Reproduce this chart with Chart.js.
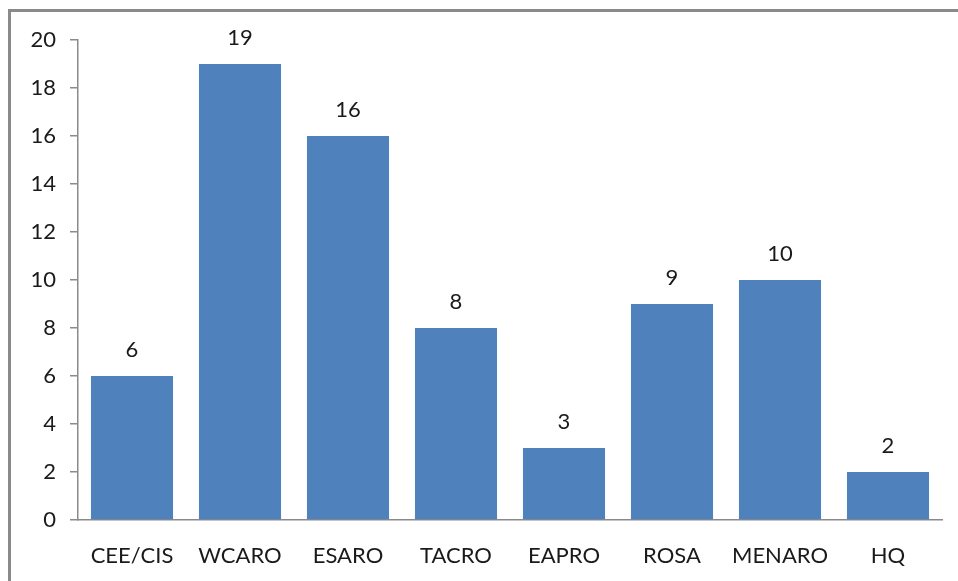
<!DOCTYPE html>
<html>
<head>
<meta charset="utf-8">
<script src="https://cdn.jsdelivr.net/npm/chart.js@4"></script>
<style>
    body { margin: 0; background: #fff; }
    #wrap { width: 958px; height: 581px; position: relative; }
</style>
</head>
<body>
<div id="wrap"><canvas id="myChart" width="958" height="581"></canvas></div>
<script>
// Regions and counts
const regionNames = ['CEE/CIS', 'WCARO', 'ESARO', 'TACRO', 'EAPRO', 'ROSA', 'MENARO', 'HQ'];
const regionCounts = [6, 19, 16, 8, 3, 9, 10, 2];
const yTicks = [0, 2, 4, 6, 8, 10, 12, 14, 16, 18, 20];

const labelFont = { family: 'Lato, "Open Sans", sans-serif', size: 22 };

// Draws the value above each bar and the grey frame round the picture
const valueLabels = {
    id: 'valueLabels',
    afterDatasetsDraw(chart) {
        const ctx = chart.ctx;
        const meta = chart.getDatasetMeta(0);
        ctx.save();
        ctx.fillStyle = '#1a1a1a';
        ctx.font = labelFont.size + 'px ' + labelFont.family;
        ctx.textAlign = 'center';
        ctx.textBaseline = 'middle';
        meta.data.forEach((bar, i) => {
            ctx.fillText(regionCounts[i], bar.x, bar.y - 26);
        });
        ctx.restore();
    },
    afterDraw(chart) {
        const ctx = chart.ctx;
        ctx.save();
        ctx.strokeStyle = '#8a8a8a';
        ctx.lineWidth = 3;
        ctx.strokeRect(9.5, 10.5, 1000, 1000);
        ctx.restore();
    }
};

const ctx = document.getElementById('myChart');
new Chart(ctx, {
    type: 'bar',
    data: {
        labels: regionNames,
        datasets: [{
            data: regionCounts,
            backgroundColor: '#4F81BD',
            borderWidth: 0,
            barPercentage: 0.76,
            categoryPercentage: 1
        }]
    },
    options: {
        responsive: false,
        animation: false,
        layout: { padding: { top: 40, right: 16, left: 0, bottom: 0 } },
        plugins: { legend: { display: false }, tooltip: { enabled: false } },
        scales: {
            x: {
                grid: { display: false },
                border: { color: '#8a8a8a', width: 1.5 },
                ticks: { color: '#1a1a1a', font: labelFont, padding: 15 },
                afterFit: s => { s.height = 61; }
            },
            y: {
                min: 0,
                max: 20,
                afterBuildTicks: s => { s.ticks = yTicks.map(v => ({ value: v })); },
                grid: { drawOnChartArea: false, tickLength: 8, color: '#8a8a8a', lineWidth: 1.5 },
                border: { color: '#8a8a8a', width: 1.5 },
                ticks: { color: '#1a1a1a', font: labelFont, padding: 14 },
                afterFit: s => { s.width = 78; }
            }
        }
    },
    plugins: [valueLabels]
});
</script>
</body>
</html>
